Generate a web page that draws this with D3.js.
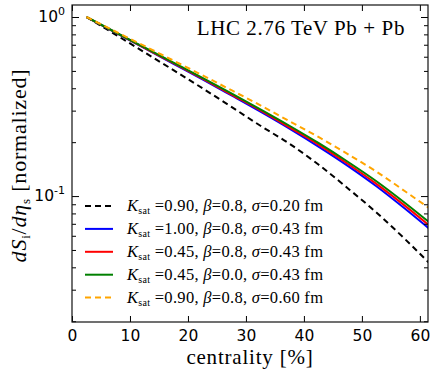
<!DOCTYPE html>
<html>
    <head>
        <script src="https://d3js.org/d3.v7.min.js"></script>
        <style>
            body { margin: 0; background: white; }
            svg { display: block; }
        </style>
    </head>
    <body>
        <script>
            const centrality = [2.5, 7.5, 12.5, 17.5, 22.5, 27.5, 32.5, 37.5, 42.5, 47.5, 52.5, 57.5, 62.5]

            const kSat090s020 = [1.0, 0.798, 0.635, 0.505, 0.400, 0.315, 0.247, 0.196, 0.150, 0.111, 0.0810, 0.0572, 0.0395]
            const kSat100 = [1.0, 0.818, 0.670, 0.548, 0.449, 0.365, 0.296, 0.238, 0.189, 0.148, 0.1135, 0.0847, 0.0622]
            const kSat045 = [1.0, 0.820, 0.673, 0.552, 0.453, 0.369, 0.301, 0.242, 0.194, 0.152, 0.117, 0.0879, 0.0649]
            const kSat045b0 = [1.0, 0.822, 0.676, 0.556, 0.457, 0.374, 0.305, 0.247, 0.198, 0.156, 0.121, 0.0912, 0.0676]
            const kSat090s060 = [1.0, 0.830, 0.689, 0.571, 0.473, 0.390, 0.321, 0.262, 0.214, 0.172, 0.137, 0.106, 0.0817]

            const seriesLabels = [
                { k: '0.90', b: '0.8', s: '0.20' },
                { k: '1.00', b: '0.8', s: '0.43' },
                { k: '0.45', b: '0.8', s: '0.43' },
                { k: '0.45', b: '0.0', s: '0.43' },
                { k: '0.90', b: '0.8', s: '0.60' }
            ]
            const seriesValues = [kSat090s020, kSat100, kSat045, kSat045b0, kSat090s060]
            const seriesColors = ['black', 'blue', 'red', 'green', 'orange']
            const seriesDash = ['6,4', null, null, null, '6,4']

            const xTicks = [0, 10, 20, 30, 40, 50, 60]

            const W = 436, H = 374
            const margin = { top: 5, right: 8, bottom: 52, left: 72 }
            const serif = "'Liberation Serif', 'Times New Roman', serif"
            const sans = "'DejaVu Sans', sans-serif"

            const svg = d3.select('body').append('svg')
                .attr('width', W).attr('height', H)

            const x = d3.scaleLinear().domain([0, 61.4]).range([margin.left, W - margin.right])
            const y = d3.scaleLog().domain([0.0198, 1.167]).range([H - margin.bottom, margin.top])

            svg.append('clipPath').attr('id', 'clip')
                .append('rect')
                .attr('x', margin.left).attr('y', margin.top)
                .attr('width', W - margin.left - margin.right)
                .attr('height', H - margin.top - margin.bottom)

            const line = d3.line()
                .x(d => x(d[0]))
                .y(d => y(d[1]))
                .curve(d3.curveMonotoneX)

            const plot = svg.append('g').attr('clip-path', 'url(#clip)')
            seriesValues.forEach((vals, i) => {
                plot.append('path')
                    .datum(centrality.map((c, j) => [c, vals[j]]))
                    .attr('d', line)
                    .attr('fill', 'none')
                    .attr('stroke', seriesColors[i])
                    .attr('stroke-width', 2)
                    .attr('stroke-dasharray', seriesDash[i])
            })

            // axes, ticks drawn inward
            const pBottom = H - margin.bottom, pTop = margin.top
            const pLeft = margin.left, pRight = W - margin.right

            svg.append('g')
                .attr('transform', `translate(0,${pBottom})`)
                .call(d3.axisBottom(x).tickValues(xTicks).tickSizeInner(-6).tickSizeOuter(0).tickPadding(8))
                .call(g => g.select('.domain').remove())
                .call(g => g.selectAll('text').attr('font-family', sans).attr('font-size', 15.5).attr('fill', 'black'))

            svg.append('g')
                .attr('transform', `translate(0,${pTop})`)
                .call(d3.axisTop(x).tickValues(xTicks).tickSizeInner(-6).tickSizeOuter(0).tickFormat(''))
                .call(g => g.select('.domain').remove())

            const majorY = [0.1, 1]
            const minorY = y.ticks().filter(t => !majorY.includes(t))

            svg.append('g')
                .attr('transform', `translate(${pLeft},0)`)
                .call(d3.axisLeft(y).tickValues(majorY).tickSizeInner(-7).tickSizeOuter(0).tickFormat(''))
                .call(g => g.select('.domain').remove())
            svg.append('g')
                .attr('transform', `translate(${pLeft},0)`)
                .call(d3.axisLeft(y).tickValues(minorY).tickSizeInner(-4).tickSizeOuter(0).tickFormat(''))
                .call(g => g.select('.domain').remove())
            svg.append('g')
                .attr('transform', `translate(${pRight},0)`)
                .call(d3.axisRight(y).tickValues(majorY).tickSizeInner(-7).tickSizeOuter(0).tickFormat(''))
                .call(g => g.select('.domain').remove())
            svg.append('g')
                .attr('transform', `translate(${pRight},0)`)
                .call(d3.axisRight(y).tickValues(minorY).tickSizeInner(-4).tickSizeOuter(0).tickFormat(''))
                .call(g => g.select('.domain').remove())

            const yLab = svg.append('g')
            majorY.forEach(v => {
                const t = yLab.append('text')
                    .attr('x', pLeft - 7).attr('y', y(v) + 5)
                    .attr('text-anchor', 'end')
                    .attr('font-family', sans).attr('font-size', 15.5)
                t.append('tspan').text('10')
                t.append('tspan').attr('dy', -7).attr('font-size', 11).text(Math.round(Math.log10(v)))
            })

            svg.append('rect')
                .attr('x', pLeft).attr('y', pTop)
                .attr('width', pRight - pLeft).attr('height', pBottom - pTop)
                .attr('fill', 'none').attr('stroke', '#111').attr('stroke-width', 1.2)

            // annotation
            svg.append('text')
                .attr('x', 405).attr('y', 35)
                .attr('text-anchor', 'end')
                .attr('font-family', serif).attr('font-size', 21)
                .attr('letter-spacing', 0.6)
                .text('LHC 2.76 TeV Pb + Pb')

            // legend
            const legend = svg.append('g')
            seriesLabels.forEach((d, i) => {
                const ly = 206 + i * 22.9
                legend.append('line')
                    .attr('x1', 85).attr('x2', 113)
                    .attr('y1', ly).attr('y2', ly)
                    .attr('stroke', seriesColors[i])
                    .attr('stroke-width', 2)
                    .attr('stroke-dasharray', seriesDash[i])
                const t = legend.append('text')
                    .attr('x', 127).attr('y', ly + 5)
                    .attr('font-family', serif).attr('font-size', 16.5)
                    .attr('letter-spacing', 0.3)
                t.append('tspan').attr('font-style', 'italic').text('K')
                t.append('tspan').attr('font-size', 10).attr('dy', 3).text('sat')
                t.append('tspan').attr('dy', -3).text(' =' + d.k + ', ')
                t.append('tspan').attr('font-style', 'italic').text('β')
                t.append('tspan').text('=' + d.b + ', ')
                t.append('tspan').attr('font-style', 'italic').text('σ')
                t.append('tspan').text('=' + d.s + ' fm')
            })

            // axis titles
            svg.append('text')
                .attr('x', (pLeft + pRight) / 2).attr('y', 364)
                .attr('text-anchor', 'middle')
                .attr('font-family', serif).attr('font-size', 21)
                .attr('letter-spacing', 0.8)
                .text('centrality [%]')

            const yt = svg.append('text')
                .attr('transform', `translate(26,${(pTop + pBottom) / 2 + 2}) rotate(-90)`)
                .attr('text-anchor', 'middle')
                .attr('font-family', serif).attr('font-size', 22)
                .attr('letter-spacing', 0.8)
            yt.append('tspan').attr('font-style', 'italic').text('dS')
            yt.append('tspan').attr('font-size', 13).attr('dy', 4).text('i')
            yt.append('tspan').attr('dy', -4).text('/')
            yt.append('tspan').attr('font-style', 'italic').text('dη')
            yt.append('tspan').attr('font-size', 13).attr('dy', 4).text('s')
            yt.append('tspan').attr('dy', -4).text(' [normalized]')
        </script>
    </body>
</html>
